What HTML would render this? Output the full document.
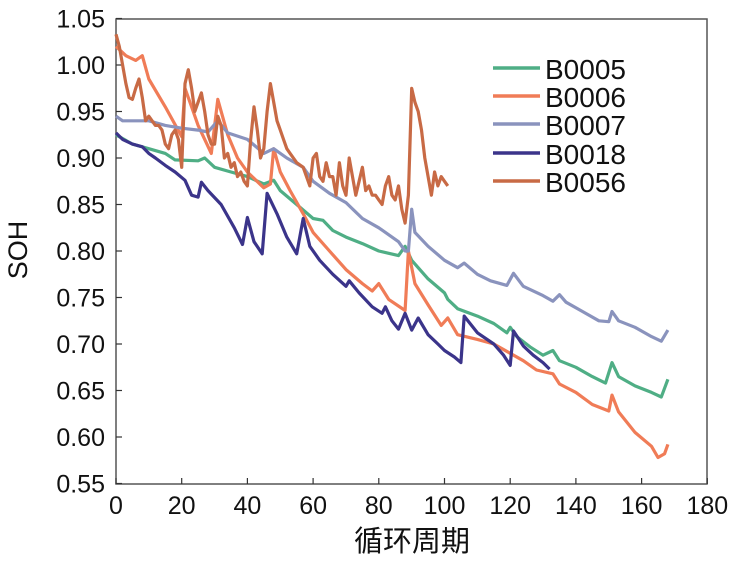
<!DOCTYPE html><html><head><style>body{margin:0;background:#fff}</style></head><body>
<svg width="736" height="559" xmlns="http://www.w3.org/2000/svg" font-family="Liberation Sans, sans-serif">
<rect x="116" y="19" width="591" height="465" fill="none" stroke="#555" stroke-width="1.5"/>
<g id="ticks" stroke="#333" stroke-width="1.2"></g>
<g id="lbl" font-size="25" fill="#111"></g>
<g id="series" fill="none" stroke-width="3.2" stroke-linejoin="round"></g>
<g font-size="28" fill="#111">
<line x1="493" y1="68" x2="540" y2="68" stroke="#4fae85" stroke-width="3.5"/><text x="545" y="79">B0005</text>
<line x1="493" y1="96" x2="540" y2="96" stroke="#f07c57" stroke-width="3.5"/><text x="545" y="107">B0006</text>
<line x1="493" y1="124" x2="540" y2="124" stroke="#8a93bd" stroke-width="3.5"/><text x="545" y="135">B0007</text>
<line x1="493" y1="153" x2="540" y2="153" stroke="#3b348a" stroke-width="3.5"/><text x="545" y="164">B0018</text>
<line x1="493" y1="181" x2="540" y2="181" stroke="#c86a45" stroke-width="3.5"/><text x="545" y="192">B0056</text>
</g>
<text transform="translate(27,250) rotate(-90)" font-size="27" text-anchor="middle" fill="#111">SOH</text>
<text x="412" y="551" font-size="29" text-anchor="middle" fill="#111" font-family="Liberation Sans, Noto Sans CJK SC, sans-serif">循环周期</text>
</svg>
<script>
const X=c=>116+c*3.285,Y=v=>18.5+(1.05-v)/0.05*46.5;
const NS="http://www.w3.org/2000/svg";
const tk=document.getElementById('ticks'),lb=document.getElementById('lbl');
function el(p,t,a,txt){const e=document.createElementNS(NS,t);for(const k in a)e.setAttribute(k,a[k]);if(txt)e.textContent=txt;p.appendChild(e);}
for(let c=0;c<=180;c+=20){el(tk,'line',{x1:X(c),x2:X(c),y1:484,y2:478});el(lb,'text',{x:X(c),y:514,'text-anchor':'middle'},String(c));}
for(let i=0;i<=10;i++){const v=0.55+i*0.05;el(tk,'line',{x1:116,x2:122,y1:Y(v),y2:Y(v)});el(lb,'text',{x:105,y:Y(v)+9,'text-anchor':'end'},v.toFixed(2));}
const S=[
["#4fae85",[0,.925,5,.915,10,.91,15,.905,18,.898,25,.897,27,.9,30,.89,35,.885,40,.88,45,.872,48,.876,50,.865,55,.85,60,.835,63,.833,66,.822,70,.815,75,.808,80,.8,86,.795,88,.805,90,.79,95,.77,100,.755,101,.748,104,.738,110,.73,115,.722,119,.712,120,.718,122,.708,126,.697,130,.688,133,.693,135,.682,140,.675,145,.665,149,.658,151,.68,153,.665,158,.655,163,.648,166,.643,168,.662]],
["#f07c57",[0,1.02,3,1.01,6,1.005,8,1.01,10,.985,15,.955,20,.923,21,.975,23,.955,25,.935,29,.905,31,.963,34,.925,37,.9,40,.885,45,.868,47,.872,48,.91,50,.885,53,.865,57,.84,60,.82,65,.8,70,.78,75,.765,78,.757,80,.765,83,.748,88,.736,89,.8,91,.765,95,.742,99,.72,101,.728,104,.71,110,.705,115,.7,120,.69,124,.682,128,.672,133,.668,135,.657,140,.648,145,.635,150,.628,151,.645,153,.627,158,.605,163,.59,165,.578,167,.582,168,.592]],
["#8a93bd",[0,.945,2,.94,10,.94,15,.935,20,.932,25,.93,28,.928,31,.94,34,.927,40,.92,45,.905,48,.91,52,.9,57,.89,60,.875,65,.862,70,.852,75,.835,80,.825,86,.81,88,.8,89,.8,90,.845,91,.82,95,.805,100,.79,104,.782,106,.787,110,.775,114,.768,119,.763,121,.776,124,.762,130,.752,133,.746,135,.753,137,.745,142,.735,147,.725,150,.724,151,.735,153,.725,158,.718,163,.708,166,.703,168,.715]],
["#3b348a",[0,.927,2,.92,5,.915,8,.912,10,.905,12,.9,15,.892,18,.885,21,.876,23,.86,25,.858,26,.874,28,.865,32,.85,36,.825,38.5,.807,40,.836,42,.81,44.5,.797,46,.862,49,.84,52,.815,55,.797,57,.835,59,.805,62,.79,66,.775,70,.762,71,.768,74,.755,78,.74,81,.733,82,.74,84,.725,86,.716,88,.733,90,.715,92,.728,95,.71,98,.7,100,.693,103,.686,105,.68,106,.73,110,.712,115,.7,118,.688,120,.677,121,.714,124,.698,127,.688,130,.68,132,.673]],
["#c86a45",[0,1.033,1,1.02,2,1.0,3,.98,4,.965,5,.963,6,.975,7,.985,8,.965,9,.94,10,.945,11,.94,12,.935,13,.935,14,.93,15,.915,16,.91,17,.925,18,.93,19,.92,20,.89,21,.98,22,.995,23,.975,24,.95,25,.96,26,.97,27,.95,28,.925,29,.915,30,.915,31,.945,32,.935,33,.9,34,.905,35,.89,36,.895,37,.88,38,.885,39,.875,40,.87,41,.92,42,.955,43,.93,44,.9,45,.91,46,.95,47,.98,48,.96,49,.94,50,.93,51,.92,52,.91,53,.905,54,.9,55,.895,57,.89,58,.88,59,.87,60,.9,61,.905,62,.88,63,.875,64,.895,65,.88,66,.88,67,.86,68,.895,69,.87,70,.86,71,.9,72,.88,73,.86,74,.875,75,.89,76,.865,77,.87,78,.86,79,.86,80,.855,81,.85,82,.87,83,.88,84,.86,85,.855,86,.87,87,.845,88,.83,89,.86,90,.975,91,.96,92,.95,93,.93,94,.9,95,.88,96,.86,97,.885,98,.87,99,.88,100,.875,101,.87]]
];
const g=document.getElementById('series');
for(const [col,d] of S){let p="";for(let i=0;i<d.length;i+=2)p+=(i?"L":"M")+X(d[i]).toFixed(1)+","+Y(d[i+1]).toFixed(1);el(g,'path',{d:p,stroke:col});}
</script>
</body></html>
